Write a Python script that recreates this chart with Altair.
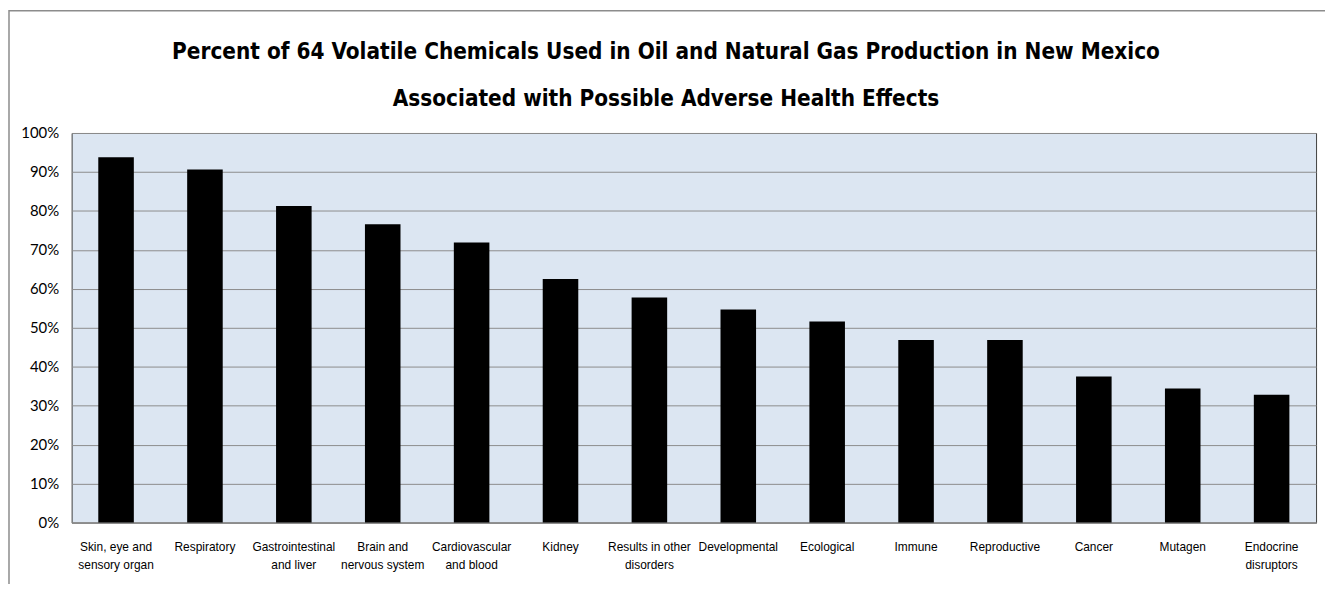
import altair as alt
import pandas as pd

categories = [
    "Skin, eye and|sensory organ",
    "Respiratory",
    "Gastrointestinal|and liver",
    "Brain and|nervous system",
    "Cardiovascular|and blood",
    "Kidney",
    "Results in other|disorders",
    "Developmental",
    "Ecological",
    "Immune",
    "Reproductive",
    "Cancer",
    "Mutagen",
    "Endocrine|disruptors",
]
percent = [0.9375, 0.906, 0.8125, 0.766, 0.719, 0.625, 0.578, 0.547,
           0.516, 0.469, 0.469, 0.375, 0.344, 0.328]
y_ticks = [0.0, 0.1, 0.2, 0.3, 0.4, 0.5, 0.6, 0.7, 0.8, 0.9, 1.0]

title_lines = [
    "Percent of 64 Volatile Chemicals Used in Oil and Natural Gas Production in New Mexico",
    "Associated with Possible Adverse Health Effects",
]

df = pd.DataFrame({"category": categories, "percent": percent})
frame_df = pd.DataFrame({"k": [0]})

bars = alt.Chart(df).mark_bar(color="#000000").encode(
    x=alt.X(
        "category:N",
        sort=categories,
        scale=alt.Scale(paddingInner=0.6, paddingOuter=0.3),
        axis=alt.Axis(
            title=None,
            labelAngle=0,
            labelExpr="split(datum.label, '|')",
            labelFont="Liberation Sans Narrow, Arial Narrow, Liberation Sans",
            labelFontSize=12,
            labelColor="#000000",
            labelLineHeight=18,
            labelPadding=19,
            ticks=False,
            domainColor="#8c8c8c",
            domainWidth=2,
        ),
    ),
    y=alt.Y(
        "percent:Q",
        scale=alt.Scale(domain=[0, 1], nice=False),
        axis=alt.Axis(
            title=None,
            values=y_ticks,
            format=".0%",
            labelFont="Lato",
            labelFontSize=15,
            labelColor="#000000",
            labelPadding=13,
            ticks=False,
            domain=False,
            grid=True,
            gridColor="#8c8c8c",
            gridWidth=1,
        ),
    ),
)

frame = alt.Chart(frame_df).mark_rect(
    filled=False, stroke="#8c8c8c", strokeWidth=1.5, clip=False
).encode(
    x=alt.value(-63), x2=alt.value(1400), y=alt.value(-123), y2=alt.value(600)
)

chart = alt.layer(bars, frame).properties(
    width=1252,
    height=392,
    padding={"left": 64, "top": 124, "right": 9, "bottom": 60},
    autosize=alt.AutoSizeParams(type="none"),
    background="#ffffff",
    title=alt.TitleParams(
        text=title_lines,
        font="DejaVu Sans Condensed, Lato",
        fontSize=22.5,
        fontWeight="bold",
        color="#000000",
        lineHeight=47,
        anchor="middle",
        frame="group",
        dx=-28,
        offset=-101,
    ),
).configure_view(
    fill="#dce6f2", stroke="#404040", strokeWidth=1
)

chart.save("out.html", embed_options={"renderer": "svg", "actions": False})
